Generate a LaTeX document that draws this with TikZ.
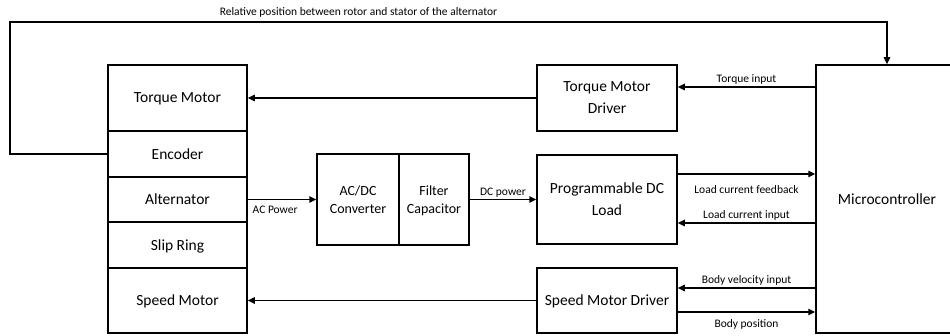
\documentclass[tikz,border=0pt]{standalone}
\usepackage{fontspec}
\setmainfont{Carlito}
\usepackage{tikz}
\usetikzlibrary{positioning,arrows.meta}

\begin{document}
\begin{tikzpicture}[x=1pt,y=-1pt,
		blk/.style={draw, line width=1.5pt, inner sep=2pt, align=center, text depth=0pt, font=\fontsize{15.5}{22}\selectfont},
		cblk/.style={blk, font=\fontsize{14}{18}\selectfont},
		lbl/.style={font=\fontsize{11.5}{13}\selectfont, inner sep=1.5pt},
		arr/.style={line width=1.5pt, -{Triangle[length=7pt,width=6.5pt]}}]
				\useasboundingbox (0,0) rectangle (950,336);
				
				% machine stack
				\node[blk, minimum width=139, minimum height=66] (tm) at (177.5,98) {Torque Motor};
				\node[blk, minimum width=139, minimum height=46] (enc) at (177.5,154) {Encoder};
				\node[blk, minimum width=139, minimum height=45] (alt) at (177.5,199.5) {Alternator};
				\node[blk, minimum width=139, minimum height=46] (slip) at (177.5,245) {Slip Ring};
				\node[blk, minimum width=139, minimum height=65] (sm) at (177.5,300.5) {Speed Motor};
				
				% power path
				\node[cblk, minimum width=82, minimum height=91] (conv) at (358,199.5) {AC/DC\\Converter};
				\node[cblk, minimum width=70, minimum height=91] (filt) at (434,199.5) {Filter\\Capacitor};
				
				% drivers and load
				\node[blk, minimum width=140, minimum height=66] (tmd) at (607,98) {Torque Motor\\Driver};
				\node[blk, minimum width=140, minimum height=89] (pdl) at (607,199.5) {Programmable DC\\Load};
				\node[blk, minimum width=140, minimum height=65] (smd) at (607,300.5) {Speed Motor Driver};
				\node[blk, minimum width=142, minimum height=268] (mcu) at (887,199) {Microcontroller};
				
				\draw[arr] (tmd.west) -- (tm.east);
				\draw[arr] (smd.west) -- (sm.east);
				\draw[arr] (alt.east) -- (conv.west) node[lbl, below, pos=0.4, yshift=-4pt] {AC Power};
				\draw[arr] (filt.east) -- (pdl.west) node[lbl, above, midway] {DC power};
				
				\draw[arr] ([yshift=11pt]tmd.east -| mcu.west) -- ([yshift=11pt]tmd.east) node[lbl, above, midway] {Torque input};
				\draw[arr] ([yshift=25.5pt]pdl.east) -- ([yshift=25.5pt]pdl.east -| mcu.west) node[lbl, below, midway, yshift=-9pt] {Load current feedback};
				\draw[arr] ([yshift=-23.5pt]pdl.east -| mcu.west) -- ([yshift=-23.5pt]pdl.east) node[lbl, above, midway] {Load current input};
				\draw[arr] ([yshift=12.5pt]smd.east -| mcu.west) -- ([yshift=12.5pt]smd.east) node[lbl, above, midway] {Body velocity input};
				\draw[arr] ([yshift=-11.5pt]smd.east) -- ([yshift=-11.5pt]smd.east -| mcu.west) node[lbl, below, midway, yshift=-5pt] {Body position};
				
				% rotor/stator feedback loop
				\coordinate (fbk) at (10,22);
				\draw[arr] (enc.west) -| (fbk) -| (mcu.north);
				\node[lbl] (rel) at (358.5,12) {Relative position between rotor and stator of the alternator};
			\end{tikzpicture}
\end{document}
